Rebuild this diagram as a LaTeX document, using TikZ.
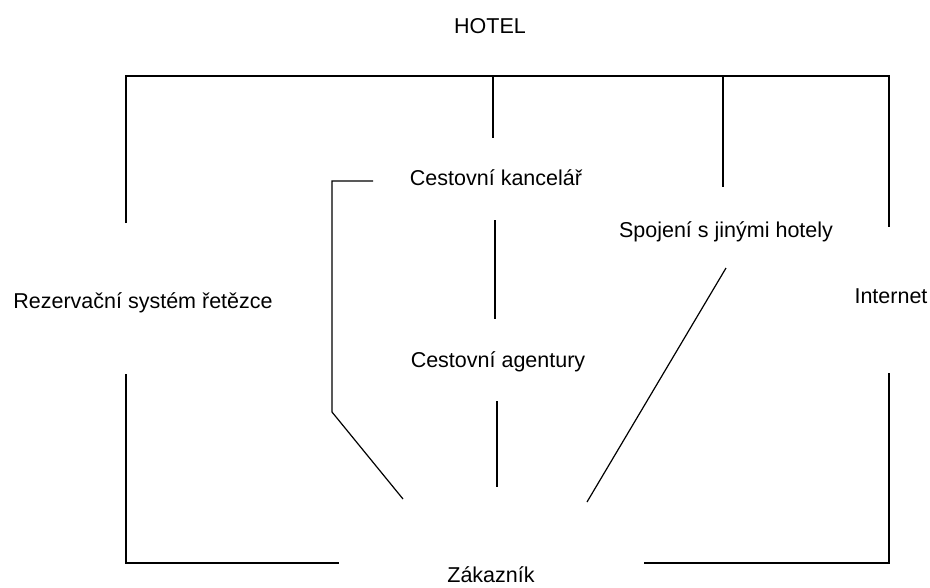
\documentclass[tikz,border=0pt]{standalone}
\usepackage{fontspec}
\setmainfont{Liberation Sans}
\begin{document}
\begin{tikzpicture}[x=1pt,y=-1pt,line width=1.2pt,
  txt/.style={anchor=base,inner sep=0pt,font=\fontsize{21.5}{25}\selectfont}]

% Parameters
\def\topY{76}
\def\botY{563}
\def\xLeft{126}
\def\xRight{889}
\def\xMid{493}
\def\xSpoj{723}

\useasboundingbox (0,0) rectangle (930,587);

% Labels
\node[txt] (hotel) at (490,33) {HOTEL};
\node[txt] (kancelar) at (496,185) {Cestovní kancelář};
\node[txt] (spojeni) at (726,237) {Spojení s jinými hotely};
\node[txt] (rezervace) at (143,308) {Rezervační systém řetězce};
\node[txt] (internet) at (891,303) {Internet};
\node[txt] (agentury) at (498,367) {Cestovní agentury};
\node[txt] (zakaznik) at (491,582) {Zákazník};

% Line ends
\coordinate (tl) at (\xLeft,\topY);
\coordinate (tr) at (\xRight,\topY);
\coordinate (tm) at (\xMid,\topY);
\coordinate (ts) at (\xSpoj,\topY);
\coordinate (rezTop) at (\xLeft,223);
\coordinate (kanTop) at (\xMid,138);
\coordinate (spojTop) at (\xSpoj,187);
\coordinate (intTop) at (\xRight,227);
\coordinate (rezBot) at (\xLeft,374);
\coordinate (intBot) at (\xRight,373);
\coordinate (bl) at (\xLeft,\botY);
\coordinate (br) at (\xRight,\botY);
\coordinate (blEnd) at (339,\botY);
\coordinate (brEnd) at (644,\botY);
\coordinate (kanLeft) at (373,181);
\coordinate (hookA) at (332,181);
\coordinate (hookB) at (332,412);
\coordinate (hookEnd) at (403,499);
\coordinate (kanBot) at (495,220);
\coordinate (ageTop) at (495,319);
\coordinate (ageBot) at (497,401);
\coordinate (zakTop) at (497,487);
\coordinate (spojBot) at (726,268);
\coordinate (spojEnd) at (587,502);

% Hotel bar
\draw (rezTop) -- (tl) -- (tr) -- (intTop);
\draw (tm) -- (kanTop);
\draw (ts) -- (spojTop);

% Customer bar
\draw (rezBot) -- (bl) -- (blEnd);
\draw (intBot) -- (br) -- (brEnd);

% Middle links
\draw (kanLeft) -- (hookA) -- (hookB) -- (hookEnd);
\draw (kanBot) -- (ageTop);
\draw (ageBot) -- (zakTop);
\draw (spojBot) -- (spojEnd);
\end{tikzpicture}
\end{document}
